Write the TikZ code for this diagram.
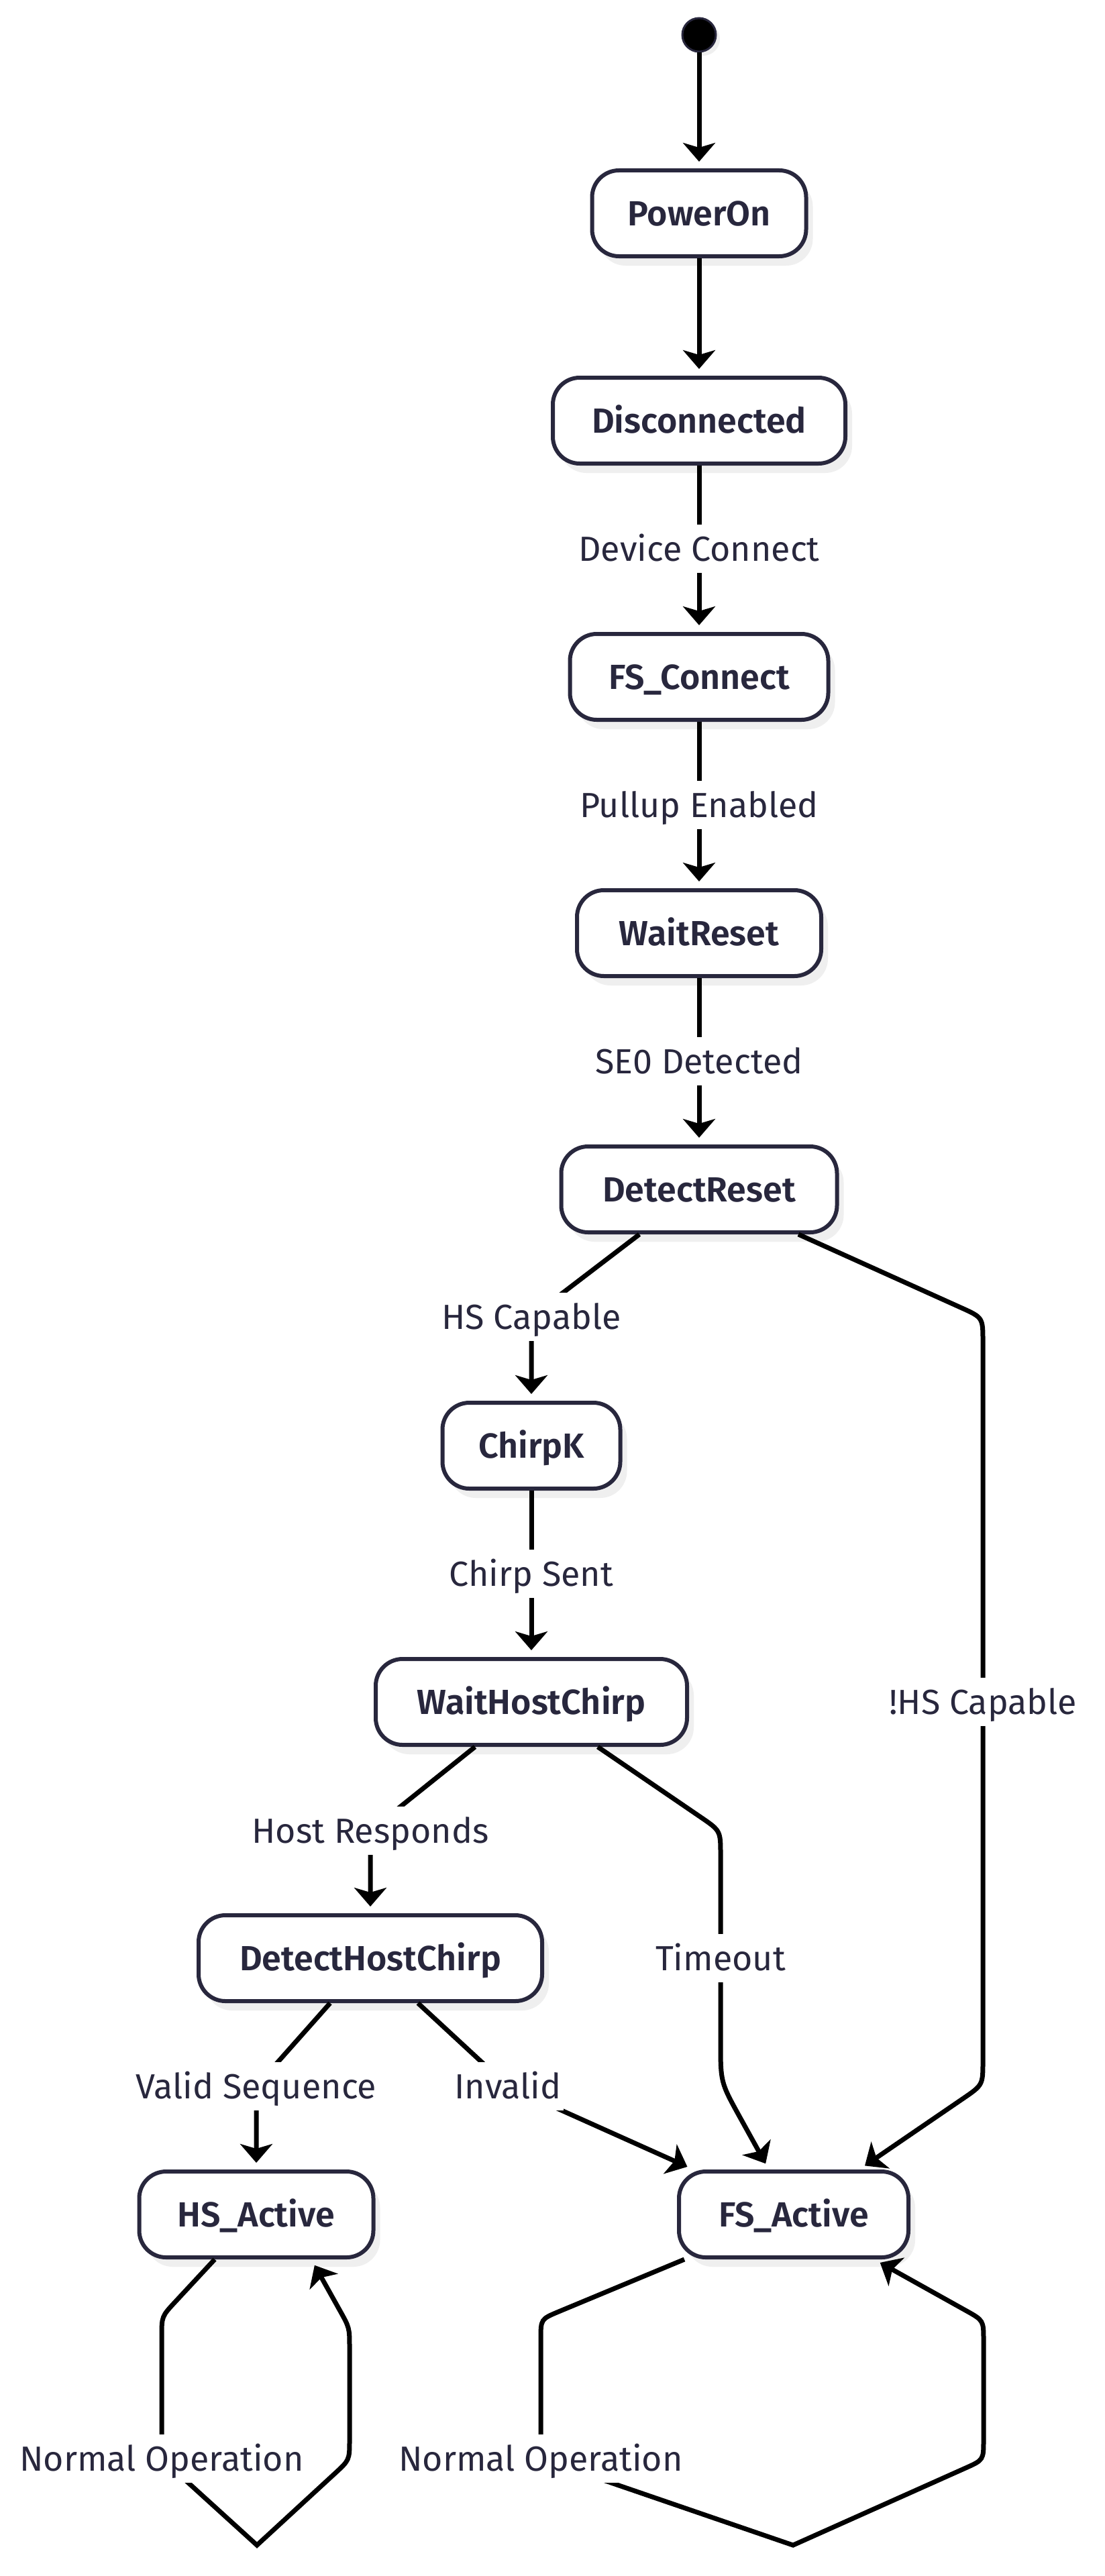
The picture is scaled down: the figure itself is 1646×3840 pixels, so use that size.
\documentclass[tikz,border=0pt]{standalone}
\usepackage{fontspec}
\setmainfont{Fira Sans}
\newfontfamily\semib{Fira Sans SemiBold}
\usetikzlibrary{arrows.meta,shadows,calc}
\definecolor{ink}{HTML}{28273D}
\definecolor{shade}{HTML}{EFEFEF}
\begin{document}
\begin{tikzpicture}[x=1pt,y=-1pt,
  state/.style={draw=ink, line width=6pt, fill=white, rounded corners=40pt,
    font=\fontsize{52}{60}\selectfont\semib, text=ink,
    minimum height=128pt, inner sep=0pt, text height=36pt, text depth=0pt,
    general shadow={fill=shade, shadow xshift=10pt, shadow yshift=-14pt}},
  lbl/.style={fill=white, text=ink, font=\fontsize{52}{60}\selectfont,
    inner xsep=4pt, inner ysep=0pt, minimum height=72pt, text height=36pt, text depth=0pt},
  conn/.style={draw=black, line width=7pt,
    -{Stealth[length=28pt,width=48pt,inset=7pt]}, shorten >=10pt}
]
\fill[white] (0,0) rectangle (1646,3840);
\useasboundingbox (0,0) rectangle (1646,3840);

% states
\node[circle, fill=black, draw=ink, line width=3pt, minimum size=50pt, inner sep=0pt,
  general shadow={fill=shade, shadow xshift=6pt, shadow yshift=-6pt}] (start) at (1042,52) {};
\node[state, minimum width=319pt] (PowerOn) at (1042,318) {PowerOn};
\node[state, minimum width=436pt] (Disconnected) at (1042,627) {Disconnected};
\node[state, minimum width=385pt] (FSConnect) at (1042,1009) {FS\_Connect};
\node[state, minimum width=364pt] (WaitReset) at (1042,1391) {WaitReset};
\node[state, minimum width=411pt] (DetectReset) at (1042,1773) {DetectReset};
\node[state, minimum width=265pt] (ChirpK) at (792,2155) {ChirpK};
\node[state, minimum width=464pt] (WaitHostChirp) at (792,2537) {WaitHostChirp};
\node[state, minimum width=512pt] (DetectHostChirp) at (552,2919) {DetectHostChirp};
\node[state, minimum width=349pt] (HSActive) at (382,3301) {HS\_Active};
\node[state, minimum width=342pt] (FSActive) at (1183,3301) {FS\_Active};

% label anchor points
\coordinate (l3) at (1042,818);
\coordinate (l4) at (1042,1200);
\coordinate (l5) at (1042,1582);
\coordinate (l6) at (792,1963);
\coordinate (l7) at (1465,2537);
\coordinate (l8) at (792,2346);
\coordinate (l9) at (552,2729);
\coordinate (l10) at (1074,2919);
\coordinate (l11) at (382,3110);
\coordinate (l12) at (757,3110);
\coordinate (l13) at (241,3665);
\coordinate (l14) at (806,3665);

% exit points and bends
\coordinate (drL) at ([xshift=-89pt]DetectReset.south);
\coordinate (drR) at ([xshift=148pt]DetectReset.south);
\coordinate (whL) at ([xshift=-84pt]WaitHostChirp.south);
\coordinate (whR) at ([xshift=99pt]WaitHostChirp.south);
\coordinate (dhL) at ([xshift=-60pt]DetectHostChirp.south);
\coordinate (dhR) at ([xshift=71pt]DetectHostChirp.south);
\coordinate (hsA) at ([xshift=-62pt]HSActive.south);
\coordinate (hsZ) at ([xshift=82pt]HSActive.south);
\coordinate (fsA) at ([xshift=-163pt]FSActive.south);
\coordinate (b7a) at (1465,1964);
\coordinate (b7b) at (1465,3108);
\coordinate (b10a) at (1074,2729);
\coordinate (b10b) at (1074,3104);
\coordinate (h1) at (241,3453);
\coordinate (hV) at (383,3794);
\coordinate (h2) at (521,3667);
\coordinate (h3) at (521,3470);
\coordinate (f1) at (806,3457);
\coordinate (fV) at (1182,3794);
\coordinate (f2) at (1466,3667);
\coordinate (f3) at (1466,3459);

% connectors
\draw[conn] (start) -- (PowerOn);
\draw[conn] (PowerOn) -- (Disconnected);
\draw[conn] (Disconnected) -- (FSConnect);
\draw[conn] (FSConnect) -- (WaitReset);
\draw[conn] (WaitReset) -- (DetectReset);
\draw[conn] (drL) -- (l6) -- (ChirpK);
\draw[conn] (drR) -- ($(b7a)!36pt!(drR)$) .. controls (b7a) .. ($(b7a)!36pt!(b7b)$)
  -- ($(b7b)!36pt!(b7a)$) .. controls (b7b) .. ($(b7b)!36pt!(FSActive.center)$) -- (FSActive);
\draw[conn] (ChirpK) -- (WaitHostChirp);
\draw[conn] (whL) -- (l9) -- (DetectHostChirp);
\draw[conn] (whR) -- ($(b10a)!36pt!(whR)$) .. controls (b10a) .. ($(b10a)!36pt!(b10b)$)
  -- ($(b10b)!60pt!(b10a)$) .. controls (b10b) .. ($(b10b)!60pt!(FSActive.center)$) -- (FSActive);
\draw[conn] (dhL) -- (l11) -- (HSActive);
\draw[conn] (dhR) -- (l12) -- (FSActive);
\draw[conn] (hsA) -- ($(h1)!30pt!(hsA)$) .. controls (h1) .. ($(h1)!30pt!(l13)$)
  -- (l13) -- (hV) -- ($(h2)!30pt!(hV)$) .. controls (h2) .. ($(h2)!30pt!(h3)$)
  -- ($(h3)!30pt!(h2)$) .. controls (h3) .. ($(h3)!30pt!(hsZ)$) -- (hsZ);
\draw[conn] (fsA) -- ($(f1)!30pt!(fsA)$) .. controls (f1) .. ($(f1)!30pt!(l14)$)
  -- (l14) -- (fV) -- ($(f2)!30pt!(fV)$) .. controls (f2) .. ($(f2)!30pt!(f3)$)
  -- ($(f3)!30pt!(f2)$) .. controls (f3) .. ($(f3)!30pt!(FSActive.center)$) -- (FSActive);

% labels
\node[lbl] at (l3) {Device Connect};
\node[lbl] at (l4) {Pullup Enabled};
\node[lbl] at (l5) {SE0 Detected};
\node[lbl] at (l6) {HS Capable};
\node[lbl] at (l7) {!HS Capable};
\node[lbl] at (l8) {Chirp Sent};
\node[lbl] at (l9) {Host Responds};
\node[lbl] at (l10) {Timeout};
\node[lbl] at (l11) {Valid Sequence};
\node[lbl] at (l12) {Invalid};
\node[lbl] at (l13) {Normal Operation};
\node[lbl] at (l14) {Normal Operation};
\end{tikzpicture}
\end{document}
